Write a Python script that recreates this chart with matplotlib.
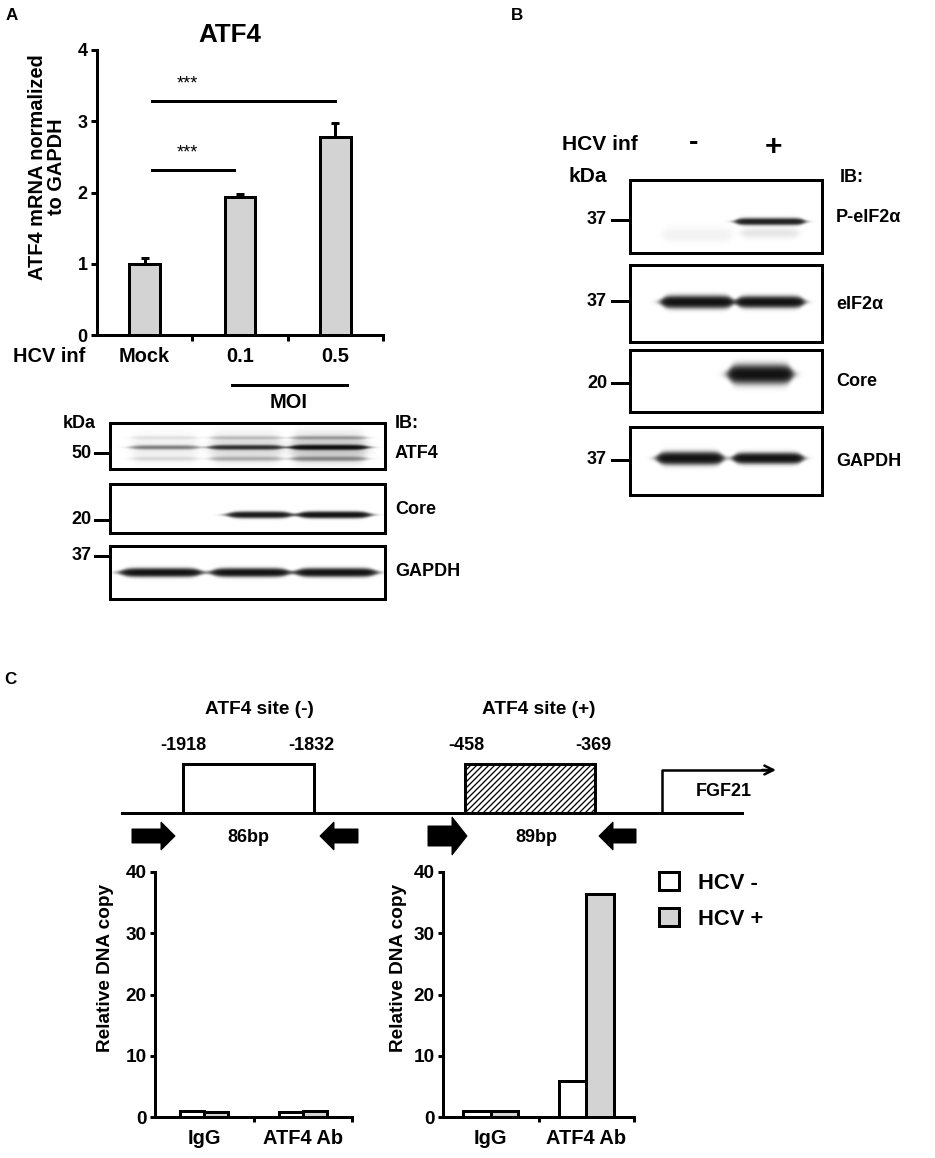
import numpy as np
import matplotlib.pyplot as plt
from matplotlib.patches import Rectangle, FancyArrow, Patch

plt.rcParams['font.family'] = ['Liberation Sans', 'DejaVu Sans']
plt.rcParams['font.weight'] = 'bold'
plt.rcParams['axes.labelweight'] = 'bold'
plt.rcParams['hatch.linewidth'] = 1.3

W, H = 935, 1158
DPI = 72  # 1 pt == 1 px

# ---- Panel A: ATF4 mRNA ----
atf4_groups = ['Mock', '0.1', '0.5']
atf4_mrna = [1.0, 1.94, 2.78]
atf4_err = [0.08, 0.04, 0.20]
sig_heights = [2.31, 3.29]
sig_ends = [0.94, 2.0]

# panel A blots, band strength per lane (Mock, 0.1, 0.5)
blotA_names = ['ATF4', 'Core', 'GAPDH']
blotA_kda = ['50', '20', '37']
blotA_atf4 = [0.25, 0.6, 1.0]
blotA_core = [0.0, 0.9, 1.0]
blotA_gapdh = [1.0, 1.0, 1.0]

# ---- Panel B: blots, lanes (-, +) ----
blotB_names = ['P-eIF2α', 'eIF2α', 'Core', 'GAPDH']
blotB_kda = ['37', '37', '20', '37']
blotB_peif = [0.02, 0.8]
blotB_eif = [1.0, 1.0]
blotB_core = [0.0, 1.0]
blotB_gapdh = [1.0, 1.0]

# ---- Panel C: ChIP ----
chip_groups = ['IgG', 'ATF4 Ab']
site_minus_neg = [1.0, 0.8]
site_minus_pos = [0.8, 1.0]
site_plus_neg = [1.0, 5.9]
site_plus_pos = [1.0, 36.4]
site_labels = ['ATF4 site (-)', 'ATF4 site (+)']
site_coords = [('-1918', '-1832'), ('-458', '-369')]
amplicons = ['86bp', '89bp']

GREY = '#d3d3d3'

fig = plt.figure(figsize=(W / DPI, H / DPI), dpi=DPI)


def px_axes(x0, y0, x1, y1):
    return fig.add_axes([x0 / W, 1 - y1 / H, (x1 - x0) / W, (y1 - y0) / H])


ov = fig.add_axes([0, 0, 1, 1])
ov.set_xlim(0, W)
ov.set_ylim(H, 0)
ov.axis('off')


def style_axes(ax):
    for s in ['top', 'right']:
        ax.spines[s].set_visible(False)
    for s in ['left', 'bottom']:
        ax.spines[s].set_linewidth(3)
    ax.tick_params(axis='y', length=6, width=3, direction='out')
    ax.tick_params(axis='x', which='major', length=0)
    ax.tick_params(axis='x', which='minor', length=6, width=3, direction='out')


def soft_band(X, Y, xc, w, yc, t, amp):
    edge = 0.012
    h = 1 / (1 + np.exp(-(X - (xc - w / 2)) / edge)) / (1 + np.exp((X - (xc + w / 2)) / edge))
    tt = t * (0.45 + 0.55 * h)
    return amp * h * np.exp(-((Y - yc) / tt) ** 2)


def draw_blot(ax, bands):
    X, Y = np.meshgrid(np.linspace(0, 1, 400), np.linspace(0, 1, 160))
    dens = np.zeros_like(X)
    for b in bands:
        dens += soft_band(X, Y, *b)
    img = 1 - np.exp(-2.6 * dens)
    ax.imshow(img, cmap='gray_r', vmin=0, vmax=1, extent=(0, 1, 0, 1),
              origin='lower', aspect='auto', interpolation='bilinear')
    ax.set_xlim(0, 1)
    ax.set_ylim(0, 1)
    ax.set_xticks([])
    ax.set_yticks([])
    for s in ax.spines.values():
        s.set_linewidth(3)


# =============== Panel A bar chart ===============
axA = px_axes(97, 50, 383, 335)
x = np.arange(len(atf4_groups))
axA.errorbar(x, atf4_mrna, yerr=[np.zeros(3), atf4_err], fmt='none', ecolor='k',
             elinewidth=3, capsize=4, capthick=3, zorder=1)
axA.bar(x, atf4_mrna, width=0.32, color=GREY, edgecolor='k', linewidth=3, zorder=2)
axA.set_xlim(-0.5, 2.5)
axA.set_ylim(0, 4)
axA.set_yticks([0, 1, 2, 3, 4])
axA.set_yticklabels(['0', '1', '2', '3', '4'], fontsize=18, fontweight='bold')
axA.set_xticks(x)
axA.set_xticklabels(atf4_groups, fontsize=20, fontweight='bold')
axA.set_xticks([0.5, 1.5, 2.5], minor=True)
style_axes(axA)
axA.tick_params(axis='x', which='major', pad=12)
axA.set_ylabel('ATF4 mRNA normalized\nto GAPDH', fontsize=20, fontweight='bold', linespacing=1.0)
axA.yaxis.set_label_coords(-0.11, 0.59)
for yv, xe in zip(sig_heights, sig_ends):
    axA.plot([0.08, xe], [yv, yv], color='k', lw=3, clip_on=False)
    axA.text(0.45, yv + 0.24, '***', ha='center', va='center', fontsize=18,
             fontweight='normal')

ov.text(230, 35, 'ATF4', ha='center', va='center', fontsize=26, fontweight='bold')
ov.text(13, 357, 'HCV inf', ha='left', va='center', fontsize=20)
ov.plot([232, 347], [385, 385], color='k', lw=3)
ov.text(289, 402, 'MOI', ha='center', va='center', fontsize=20)

# =============== Panel A blots ===============
boxesA = [(423, 469), (484, 533), (546, 599)]
kda_yA = [453, 520, 556]
lab_yA = [453, 510, 572]
lanesA = [(0.198, 0.24), (0.495, 0.26), (0.796, 0.27)]
core_lanesA = [(0.2, 0.22), (0.545, 0.22), (0.815, 0.25)]
gapdh_lanesA = [(0.185, 0.28), (0.51, 0.27), (0.822, 0.28)]

bands_atf4 = []
for (xc, w), amp in zip(lanesA, blotA_atf4):
    bands_atf4.append((xc, w, 0.47, 0.045, amp))
    bands_atf4.append((xc, w, 0.68, 0.04, amp * 0.15))
    bands_atf4.append((xc, w, 0.22, 0.05, amp * 0.2))
    bands_atf4.append((xc, w, 0.45, 0.30, amp * 0.10))
bands_core = [(xc, w, 0.37, 0.055, a) for (xc, w), a in zip(core_lanesA, blotA_core)]
bands_gapdh = [(xc, w, 0.50, 0.065, a) for (xc, w), a in zip(gapdh_lanesA, blotA_gapdh)]

for (y0, y1), bands in zip(boxesA, [bands_atf4, bands_core, bands_gapdh]):
    draw_blot(px_axes(110, y0, 385, y1), bands)

ov.text(79, 423, 'kDa', ha='center', va='center', fontsize=18)
ov.text(395, 423, 'IB:', ha='left', va='center', fontsize=18)
for ky, ly, kda, name in zip(kda_yA, lab_yA, blotA_kda, blotA_names):
    ov.plot([95, 110], [ky, ky], color='k', lw=3)
    ov.text(92, ky, kda, ha='right', va='center', fontsize=18)
    ov.text(395, ly, name, ha='left', va='center', fontsize=18)

# =============== Panel B blots ===============
boxesB = [(180, 253), (265, 342), (350, 412), (427, 495)]
kda_yB = [220, 301, 383, 460]
bands_B = [
    [(0.35, 0.36, 0.25, 0.10, blotB_peif[0]), (0.73, 0.35, 0.43, 0.04, blotB_peif[1]),
     (0.73, 0.30, 0.27, 0.07, blotB_peif[1] * 0.05)],
    [(0.35, 0.36, 0.52, 0.065, blotB_eif[0]), (0.73, 0.34, 0.52, 0.06, blotB_eif[1])],
    [(0.35, 0.30, 0.60, 0.12, blotB_core[0]), (0.68, 0.32, 0.60, 0.12, blotB_core[1])],
    [(0.313, 0.33, 0.54, 0.075, blotB_gapdh[0]), (0.72, 0.35, 0.54, 0.065, blotB_gapdh[1])],
]
for (y0, y1), bands in zip(boxesB, bands_B):
    draw_blot(px_axes(630, y0, 822, y1), bands)

ov.text(600, 144, 'HCV inf', ha='center', va='center', fontsize=21)
ov.text(694, 143, '-', ha='center', va='center', fontsize=28)
ov.text(773, 147, '+', ha='center', va='center', fontsize=30)
ov.text(588, 177, 'kDa', ha='center', va='center', fontsize=21)
ov.text(852, 178, 'IB:', ha='center', va='center', fontsize=18)
for (y0, y1), ky, kda, name in zip(boxesB, kda_yB, blotB_kda, blotB_names):
    ov.plot([612, 630], [ky, ky], color='k', lw=3)
    ov.text(607, ky, kda, ha='right', va='center', fontsize=18)
    ov.text(836, (y0 + y1) / 2 + 1, name, ha='left', va='center', fontsize=18)

# =============== Panel C diagram ===============
ov.plot([122, 742], [813, 813], color='k', lw=3, zorder=1)
ov.add_patch(Rectangle((183, 764), 131, 49, facecolor='white', edgecolor='k', lw=3, zorder=2))
ov.add_patch(Rectangle((465, 764), 130, 49, facecolor='white', edgecolor='k', lw=3,
                       hatch='////', zorder=2))
ov.plot([662, 662, 770], [813, 770, 770], color='k', lw=2.5)
ov.annotate('', xy=(778, 770), xytext=(760, 770),
            arrowprops=dict(arrowstyle='->', lw=2.5, color='k', mutation_scale=22))
ov.text(724, 792, 'FGF21', ha='center', va='center', fontsize=18)

for cx, lab in zip([259, 539], site_labels):
    ov.text(cx, 709, lab, ha='center', va='center', fontsize=19)
for xs, (a, b) in zip([(183, 311), (466, 593)], site_coords):
    ov.text(xs[0], 745, a, ha='center', va='center', fontsize=18)
    ov.text(xs[1], 745, b, ha='center', va='center', fontsize=18)
for cx, lab in zip([248, 536], amplicons):
    ov.text(cx, 837, lab, ha='center', va='center', fontsize=18)

# primer arrows (x start, length, body width, head width, head length)
for x0, dx, bw, hw, hl in [(132, 43, 14, 28, 14), (358, -38, 14, 28, 14),
                           (428, 39, 20, 38, 15), (636, -37, 14, 28, 14)]:
    ov.add_patch(FancyArrow(x0, 836, dx, 0, width=bw, head_width=hw, head_length=hl,
                            length_includes_head=True, color='k'))

ov.text(10, 680, 'C', ha='center', va='center', fontsize=17)
ov.text(12, 15, 'A', ha='center', va='center', fontsize=17)
ov.text(517, 15, 'B', ha='center', va='center', fontsize=17)

# =============== Panel C bar charts ===============
xc = np.arange(len(chip_groups))


def chip_axes(ax, neg, pos, bw, label_x):
    ax.bar(xc - bw / 2, neg, width=bw, color='white', edgecolor='k', linewidth=3, zorder=2)
    ax.bar(xc + bw / 2, pos, width=bw, color=GREY, edgecolor='k', linewidth=3, zorder=2)
    ax.set_xlim(-0.5, 1.5)
    ax.set_ylim(0, 40)
    ax.set_yticks([0, 10, 20, 30, 40])
    ax.set_yticklabels(['0', '10', '20', '30', '40'], fontsize=19)
    ax.set_xticks(xc)
    ax.set_xticklabels(chip_groups, fontsize=20)
    ax.set_xticks([0.5, 1.5], minor=True)
    style_axes(ax)
    ax.tick_params(axis='y', length=5)
    ax.tick_params(axis='x', which='minor', length=5)
    ax.tick_params(axis='x', which='major', pad=12)
    ax.set_ylabel('Relative DNA copy', fontsize=19, fontweight='bold')
    ax.yaxis.set_label_coords(label_x, 0.61)


axL = px_axes(155, 872, 352, 1117)
chip_axes(axL, site_minus_neg, site_minus_pos, 0.245, -0.21)
axR = px_axes(443, 872, 634, 1117)
chip_axes(axR, site_plus_neg, site_plus_pos, 0.29, -0.19)

handles = [Patch(facecolor='white', edgecolor='k', lw=3, label='HCV -'),
           Patch(facecolor=GREY, edgecolor='k', lw=3, label='HCV +')]
axR.legend(handles=handles, loc='upper left', bbox_to_anchor=(1.13, 1.0), frameon=False,
           fontsize=22, handlelength=0.9, handleheight=0.9, handletextpad=0.9,
           labelspacing=0.65, borderpad=0, borderaxespad=0)

fig.savefig('out.png', dpi=DPI)
